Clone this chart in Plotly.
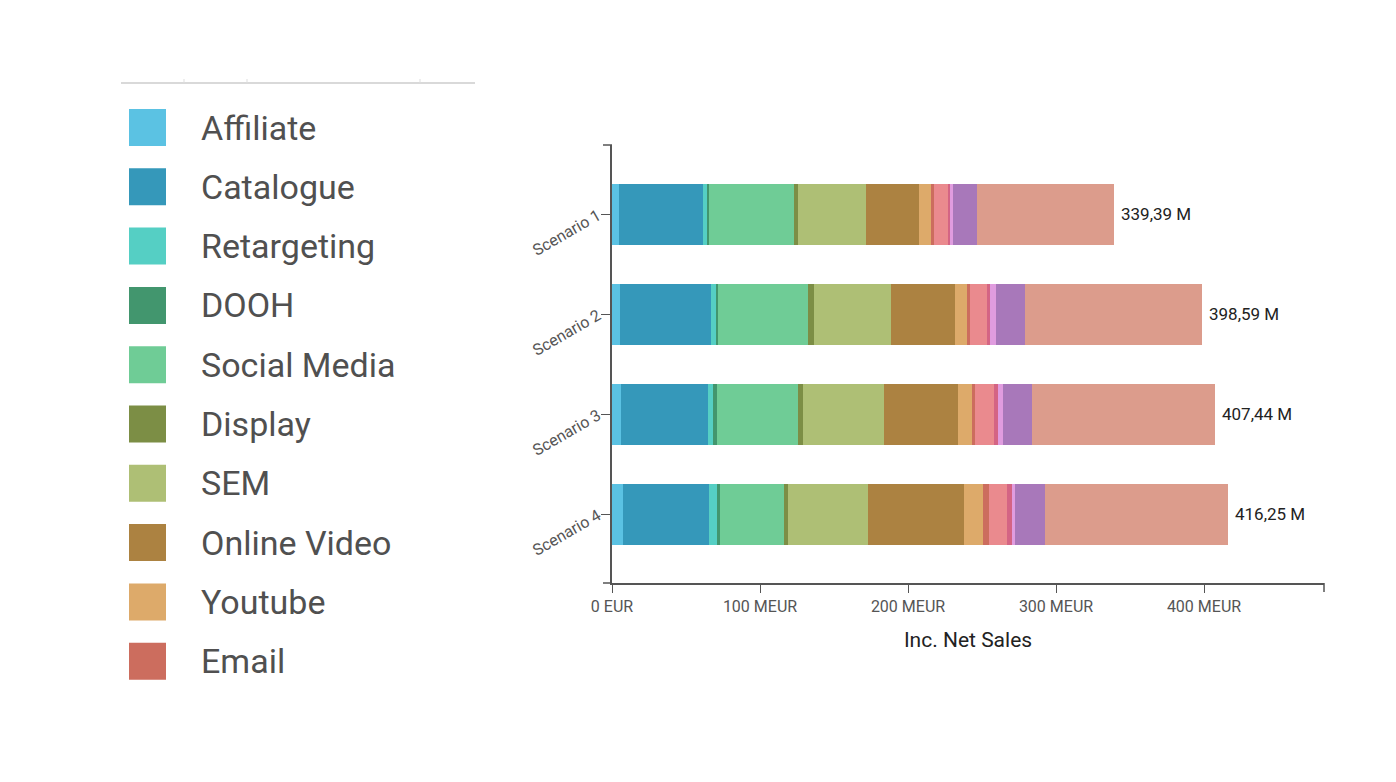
import plotly.graph_objects as go

scenarios = ["Scenario 1", "Scenario 2", "Scenario 3", "Scenario 4"]

# channels in stacking order (last five are not listed in the visible legend)
channels = ["Affiliate", "Catalogue", "Retargeting", "DOOH", "Social Media",
            "Display", "SEM", "Online Video", "Youtube", "Email",
            "Print", "Radio", "Podcast", "TV", "Base"]
colors = ["#5BC2E3", "#3598BA", "#55CFC4", "#42966E", "#6FCC96",
          "#7C8E45", "#AEBF75", "#AC8241", "#DDAA6A", "#CC6D5E",
          "#EA8A8E", "#D46484", "#E09CDF", "#A878BA", "#DC9C8C"]

# MEUR per scenario, one row per channel
affiliate = [4.9, 5.6, 6.1, 7.2]
catalogue = [56.3, 61.3, 58.5, 58.1]
retargeting = [2.7, 3.4, 3.4, 5.4]
dooh = [1.8, 1.6, 2.7, 2.3]
social_media = [57.0, 60.8, 54.7, 43.4]
display = [2.7, 3.6, 3.4, 2.7]
sem = [46.2, 52.3, 54.7, 53.6]
online_video = [36.0, 43.2, 50.5, 65.3]
youtube = [7.9, 8.1, 9.0, 12.4]
email = [1.8, 2.0, 2.3, 4.1]
print_ = [9.5, 11.5, 13.0, 12.2]
radio = [1.6, 2.0, 2.2, 3.6]
podcast = [1.8, 4.1, 3.4, 2.0]
tv = [16.5, 19.3, 19.8, 20.3]
base = [92.69, 119.79, 123.74, 123.65]

series = [affiliate, catalogue, retargeting, dooh, social_media, display, sem,
          online_video, youtube, email, print_, radio, podcast, tv, base]
totals = [339.39, 398.59, 407.44, 416.25]

legend_items = channels[:10]

fig = go.Figure()
for name, vals, col in zip(channels, series, colors):
    fig.add_trace(go.Bar(
        y=scenarios, x=vals, name=name, orientation="h",
        marker=dict(color=col, line=dict(width=0)),
        showlegend=False,
    ))

# total labels at the end of each bar
for sc, tot in zip(scenarios, totals):
    fig.add_annotation(
        x=tot, y=sc, xref="x", yref="y", xanchor="left", xshift=5,
        text=f"{tot:.2f}".replace(".", ",") + " M", showarrow=False,
        font=dict(size=17, color="#222222"),
    )

# the page body adds an 8px margin, so work in page pixels minus 8
OFF = 8
L, R, T, B = 612 - OFF, 1324 - OFF, 145 - OFF, 583 - OFF
W, H = R - L, B - T


def px(x):
    return (x - OFF - L) / W


def py(y):
    return (B - (y - OFF)) / H


shapes = []
# outer ticks of the axes
ax_col = "#555555"
shapes.append(dict(type="line", xref="paper", yref="paper", x0=-9 / W, x1=0, y0=1, y1=1,
                   line=dict(color=ax_col, width=1.5)))
shapes.append(dict(type="line", xref="paper", yref="paper", x0=-9 / W, x1=0, y0=0, y1=0,
                   line=dict(color=ax_col, width=1.5)))
shapes.append(dict(type="line", xref="paper", yref="paper", x0=1, x1=1, y0=0, y1=-9 / H,
                   line=dict(color=ax_col, width=1.5)))

# legend panel on the left
shapes.append(dict(type="line", xref="paper", yref="paper", x0=px(121), x1=px(475),
                   y0=py(83), y1=py(83), line=dict(color="#cccccc", width=1.5)))
for tx in [184, 247, 420]:
    shapes.append(dict(type="line", xref="paper", yref="paper", x0=px(tx), x1=px(tx),
                       y0=py(79), y1=py(83), line=dict(color="#dddddd", width=1)))

for i, (name, col) in enumerate(zip(legend_items, colors)):
    top = 109 + 59.3 * i
    shapes.append(dict(type="rect", xref="paper", yref="paper",
                       x0=px(129), x1=px(166), y0=py(top + 37), y1=py(top),
                       fillcolor=col, line=dict(width=0)))
    fig.add_annotation(
        x=px(199), y=py(top + 18.5), xref="paper", yref="paper",
        xanchor="left", yanchor="middle", text=name, showarrow=False,
        font=dict(size=34, color="#505050"),
    )

fig.update_layout(
    width=1396, height=782,
    margin=dict(l=L, r=1396 - R, t=T, b=782 - B),
    barmode="stack", bargap=0.39,
    plot_bgcolor="white", paper_bgcolor="white",
    font=dict(family="Roboto, Arial, sans-serif", color="#555555"),
    shapes=shapes,
    showlegend=False,
)
fig.update_xaxes(
    range=[0, (R - L) / 1.48], showgrid=False, zeroline=False,
    showline=True, linecolor=ax_col, linewidth=1.5,
    ticks="outside", ticklen=8, tickcolor=ax_col, tickwidth=1,
    tickvals=[0, 100, 200, 300, 400],
    ticktext=["0 EUR", "100 MEUR", "200 MEUR", "300 MEUR", "400 MEUR"],
    tickfont=dict(size=16, color="#555555"),
    title=dict(text="Inc. Net Sales", font=dict(size=21, color="#222222"), standoff=17),
)
fig.update_yaxes(
    type="category", categoryorder="array", categoryarray=scenarios,
    range=[3.69, -0.69], showgrid=False, zeroline=False,
    showline=True, linecolor=ax_col, linewidth=1.5,
    ticks="outside", ticklen=9, tickcolor=ax_col, tickwidth=1,
    tickangle=-30, tickfont=dict(size=16, color="#555555"),
)

fig.write_html("out.html")
